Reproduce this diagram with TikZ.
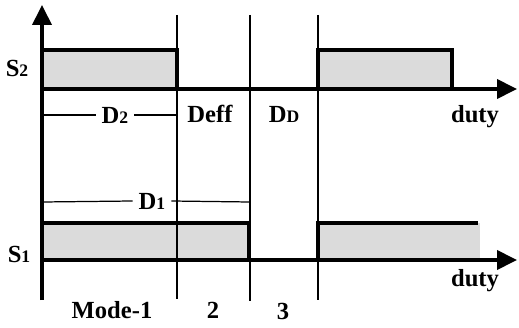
\documentclass[tikz,border=0pt]{standalone}
\usepackage{fontspec}
\setmainfont{Liberation Serif}
\usetikzlibrary{arrows.meta}
\newcommand{\lowsub}[1]{{\fontsize{10}{12}\selectfont #1}}
\begin{document}
\begin{tikzpicture}[x=0.02cm, y=-0.02cm, font=\fontsize{14}{16}\selectfont\bfseries,
    axis/.style={line width=2.2pt, -{Triangle[length=0.4cm, width=0.38cm]}},
    wave/.style={line width=2.2pt, line join=miter},
    pulse/.style={fill=gray!28},
    mark line/.style={line width=0.7pt}]
    \useasboundingbox (0,0) rectangle (519,327);

    % shaded pulses
    \fill[pulse] (42,50) rectangle (177,89);
    \fill[pulse] (318,50) rectangle (452,89);
    \fill[pulse] (42,223) rectangle (249,260);
    \fill[pulse] (318,223) rectangle (480,260);

    % mode boundaries
    \draw[mark line] (177,15) -- (177,299);
    \draw[mark line] (250,15) -- (250,301);
    \draw[mark line] (318,15) -- (318,300);

    % axes
    \coordinate (origin) at (42,300);
    \coordinate (ytop) at (42,5);
    \coordinate (base2) at (42,89);
    \coordinate (end2) at (517,89);
    \coordinate (base1) at (42,260);
    \coordinate (end1) at (517,260);
    \draw[axis] (origin) -- (ytop);
    \draw[axis] (base2) -- (end2);
    \draw[axis] (base1) -- (end1);

    % gate signals
    \draw[wave] (42,50) -- (177,50) -- (177,89);
    \draw[wave] (318,89) -- (318,50) -- (452,50) -- (452,89);
    \draw[wave] (42,223) -- (249,223) -- (249,260);
    \draw[wave] (318,260) -- (318,223) -- (478,223);

    % labels
    \node (s2) at (17,68) {S\lowsub{2}};
    \node (s1) at (19,254) {S\lowsub{1}};
    \node (d2) at (115,115) {D\lowsub{2}};
    \node (deff) at (210,114) {Deff};
    \node (dd) at (284,114) {D\lowsub{D}};
    \node (duty2) at (475,117) {duty};
    \node (d1) at (152,201) {D\lowsub{1}};
    \node (duty1) at (475,281) {duty};
    \node (mode1) at (112,310) {Mode-1};
    \node (mode2) at (213,310) {2};
    \node (mode3) at (283,311) {3};

    \draw[mark line] (42,115) -- (d2.west);
    \draw[mark line] (d2.east) -- (177,115);
    \draw[mark line] (42,202) -- (d1.west);
    \draw[mark line] (d1.east) -- (250,202);
\end{tikzpicture}
\end{document}
